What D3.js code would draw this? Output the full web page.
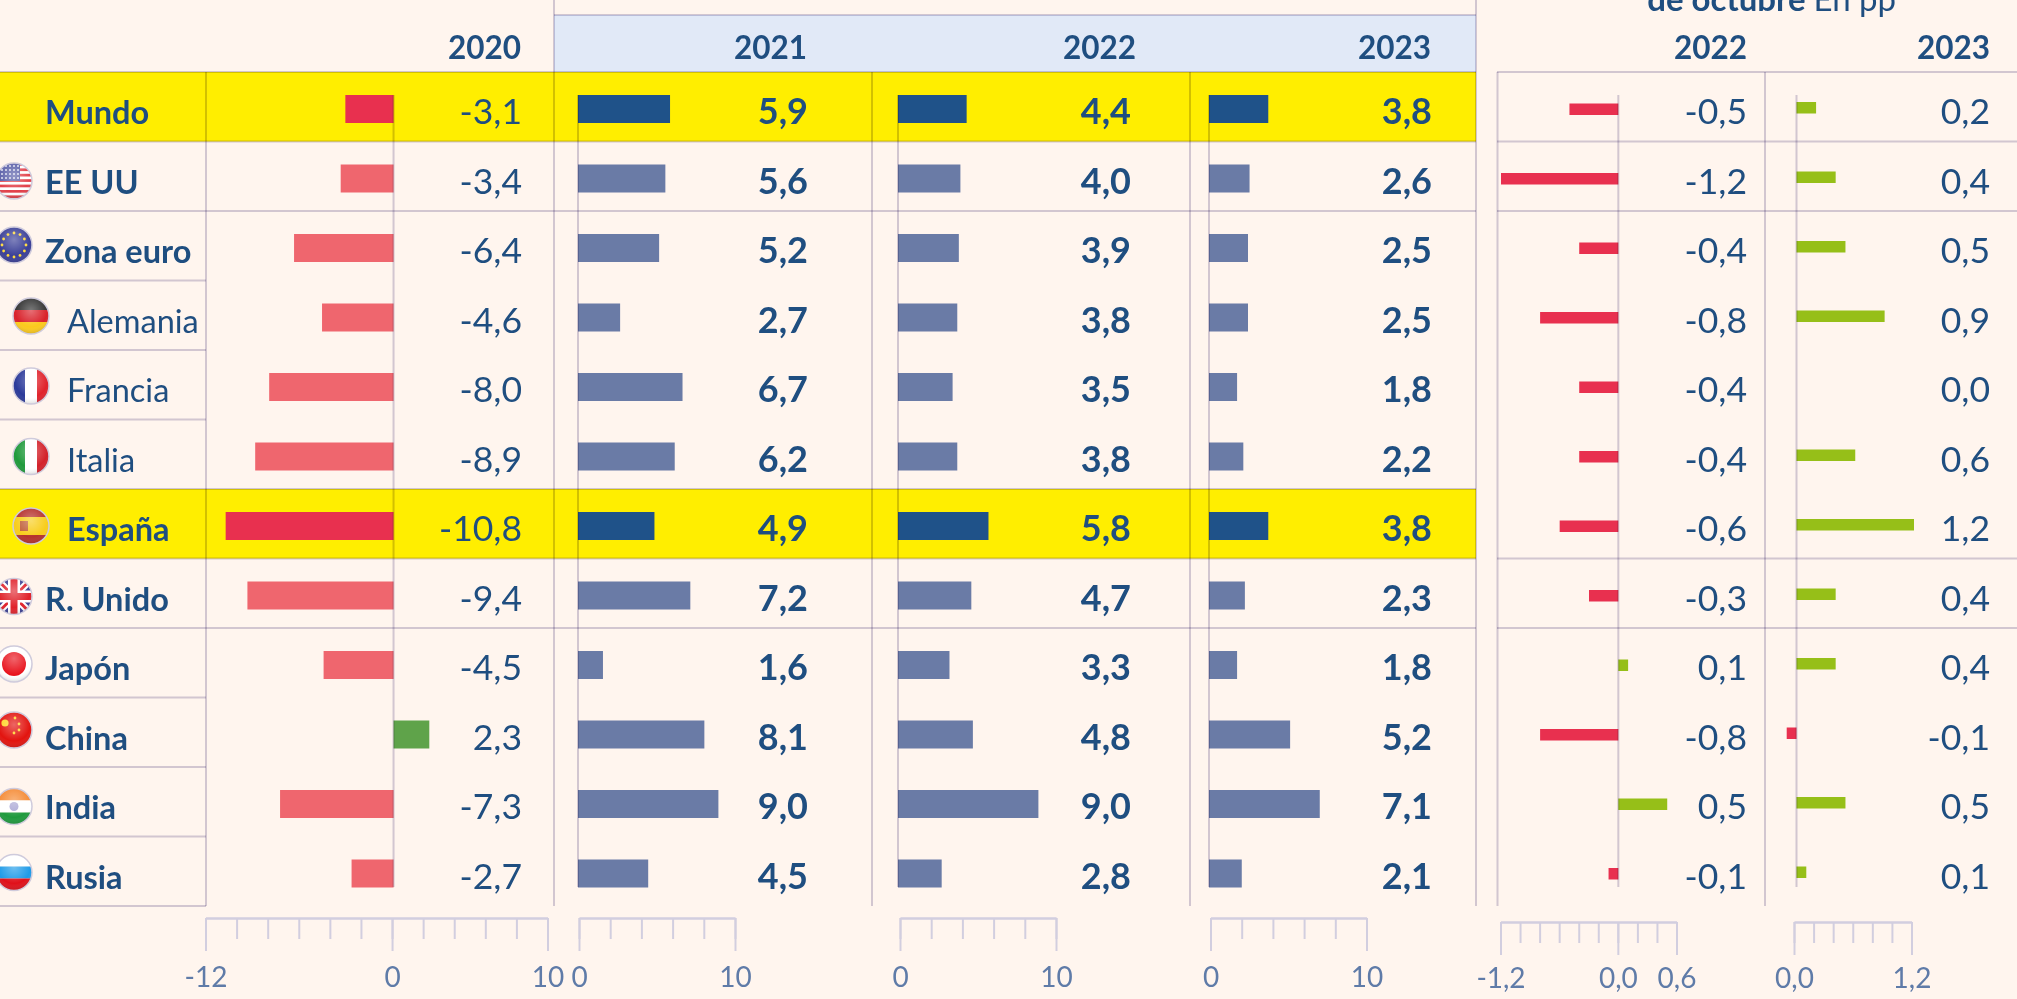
<!DOCTYPE html>
<html>
<head>
<meta charset="utf-8">
<script src="https://cdn.jsdelivr.net/npm/d3@7"></script>
<style>
	html, body { margin: 0; padding: 0; background: #fff5ee; overflow: hidden; }
	svg { display: block; }
	text { font-family: Lato, sans-serif; }
</style>
</head>
<body>
<div id="chart"></div>
<script>
var paises = ["Mundo", "EE UU", "Zona euro", "Alemania", "Francia", "Italia", "España", "R. Unido", "Japón", "China", "India", "Rusia"];
var claves = ["", "us", "eu", "de", "fr", "it", "es", "uk", "jp", "cn", "in", "ru"];
var pib2020 = [-3.1, -3.4, -6.4, -4.6, -8.0, -8.9, -10.8, -9.4, -4.5, 2.3, -7.3, -2.7];
var pib2021 = [5.9, 5.6, 5.2, 2.7, 6.7, 6.2, 4.9, 7.2, 1.6, 8.1, 9.0, 4.5];
var pib2022 = [4.4, 4.0, 3.9, 3.8, 3.5, 3.8, 5.8, 4.7, 3.3, 4.8, 9.0, 2.8];
var pib2023 = [3.8, 2.6, 2.5, 2.5, 1.8, 2.2, 3.8, 2.3, 1.8, 5.2, 7.1, 2.1];
var rev2022 = [-0.5, -1.2, -0.4, -0.8, -0.4, -0.4, -0.6, -0.3, 0.1, -0.8, 0.5, -0.1];
var rev2023 = [0.2, 0.4, 0.5, 0.9, 0.0, 0.6, 1.2, 0.4, 0.4, -0.1, 0.5, 0.1];
var destacados = ["Mundo", "España"];
var sangrados = ["Alemania", "Francia", "Italia", "España"];
var ligeros = ["Alemania", "Francia", "Italia"];

var width = 2017, height = 999;
var top0 = 72, rowH = 69.5;
var lineCol = "#d2cedf", textCol = "#1f4e80", tickCol = "#5f7ba8";
var fmt = function(v) { return d3.format(".1f")(v).replace(".", ",").replace("\u2212", "-"); };

var svg = d3.select("#chart").append("svg").attr("width", width).attr("height", height);
svg.append("rect").attr("width", width).attr("height", height).attr("fill", "#fff5ee");

var y = d3.scaleBand().domain(paises).range([top0, top0 + rowH * paises.length]);
var rowTop = function(i) { return top0 + i * rowH; };

// header band and yellow rows
svg.append("rect").attr("x", 554).attr("y", 15).attr("width", 922).attr("height", 57).attr("fill", "#e1e9f7");
svg.selectAll(".hl").data(destacados).enter().append("rect")
	.attr("x", 0).attr("y", function(d) { return y(d); })
	.attr("width", 1476).attr("height", y.bandwidth())
	.attr("fill", "#ffee00");

function hline(x1, x2, yy) {
	svg.append("line").attr("x1", x1).attr("x2", x2).attr("y1", yy).attr("y2", yy)
		.attr("stroke", lineCol).attr("stroke-width", 2)
		.style("mix-blend-mode", "multiply");
}
function vline(x, y1, y2) {
	svg.append("line").attr("x1", x).attr("x2", x).attr("y1", y1).attr("y2", y2)
		.attr("stroke", lineCol).attr("stroke-width", 2)
		.style("mix-blend-mode", "multiply");
}

// grid lines
hline(0, 1476, top0);
hline(1497, width, top0);
hline(554, 1476, 15);
[1, 2, 7, 8].forEach(function(i) {
	hline(0, 1476, rowTop(i));
	hline(1497, width, rowTop(i));
});
[3, 4, 5, 6, 9, 10, 11, 12].forEach(function(i) { hline(0, 206, rowTop(i)); });
hline(206, 1476, rowTop(6));

vline(206, top0, 906);
vline(554, 0, 906);
vline(872, top0, 906);
vline(1190, top0, 906);
vline(1476, 0, 906);
vline(1497.5, top0, 906);
vline(1765, top0, 906);

// panels: each one has its own scale, zero line and column of values
var panels = [
	{ name: "2020", values: pib2020, domain: [-12, 10], range: [207, 549], right: 522, header: 521, barH: 28, barOff: 23, axisDx: -1.5, axisY: 918, pad: 16, step: 2, major: [-12, 0, 10] },
	{ name: "2021", values: pib2021, domain: [0, 10], range: [578, 734], right: 808, header: 807, barH: 28, barOff: 23, bold: true, axisDx: 1, axisY: 918, pad: 16, step: 2, major: [0, 10] },
	{ name: "2022", values: pib2022, domain: [0, 10], range: [898, 1054], right: 1131, header: 1136, barH: 28, barOff: 23, bold: true, axisDx: 2, axisY: 918, pad: 16, step: 2, major: [0, 10] },
	{ name: "2023", values: pib2023, domain: [0, 10], range: [1209, 1365], right: 1432, header: 1431, barH: 28, barOff: 23, bold: true, axisDx: 1.5, axisY: 918, pad: 16, step: 2, major: [0, 10] },
	{ name: "2022", values: rev2022, domain: [-1.2, 0.6], range: [1501, 1677], right: 1747, header: 1747, barH: 11.5, barOff: 31.5, delta: true, axisDx: -0.5, axisY: 922, pad: 13, step: 0.2, major: [-1.2, 0, 0.6] },
	{ name: "2023", values: rev2023, domain: [0, 1.2], range: [1796.5, 1914], right: 1990, header: 1990, barH: 11.5, barOff: 30, delta: true, axisDx: -2.5, axisY: 922, pad: 13, step: 0.2, major: [0, 1.2] }
];

function barColor(p, v, i) {
	var hl = destacados.indexOf(paises[i]) >= 0;
	if (p.delta) return v < 0 ? "#e8304f" : "#96bf18";
	if (v > 0 && p.name === "2020") return "#5fa34a";
	if (p.name === "2020") return hl ? "#e8304f" : "#ef666e";
	return hl ? "#1f5289" : "#6a7ba6";
}

function styleAxis(sel) {
	sel.select(".domain").attr("stroke", lineCol).attr("stroke-width", 2);
	sel.selectAll(".tick line").attr("stroke", lineCol).attr("stroke-width", 2);
	sel.selectAll(".tick text").attr("fill", tickCol).attr("font-size", 28).style("font-family", "Lato, sans-serif");
}

panels.forEach(function(p) {
	var x = d3.scaleLinear().domain(p.domain).range(p.range);
	var g = svg.append("g");

	vline(x(0), 95, 887);

	g.selectAll("rect").data(p.values).enter().append("rect")
		.attr("x", function(d) { return x(Math.min(d, 0)); })
		.attr("y", function(d, i) { return y(paises[i]) + p.barOff; })
		.attr("width", function(d) { return Math.abs(x(d) - x(0)); })
		.attr("height", p.barH)
		.attr("fill", function(d, i) { return barColor(p, d, i); });

	g.selectAll("text").data(p.values).enter().append("text")
		.attr("x", p.right)
		.attr("y", function(d, i) { return y(paises[i]) + 52; })
		.attr("text-anchor", "end")
		.attr("font-size", p.bold ? 36 : 35.5)
		.attr("font-weight", p.bold ? 700 : 400)
		.attr("fill", textCol)
		.text(function(d) { return fmt(d); });

	svg.append("text")
		.attr("x", p.header).attr("y", 58.5)
		.attr("text-anchor", "end")
		.attr("font-size", 31.5).attr("font-weight", 700)
		.attr("fill", textCol)
		.text(p.name);

	// axis: short ticks first, long ones with labels on top
	var ax = x.copy().range([p.range[0] + p.axisDx, p.range[1] + p.axisDx]);
	var all = d3.range(p.domain[0], p.domain[1] + p.step / 2, p.step);
	svg.append("g").attr("transform", "translate(0," + p.axisY + ")")
		.call(d3.axisBottom(ax).tickValues(all).tickSizeInner(21).tickSizeOuter(0).tickFormat(""))
		.call(styleAxis);
	svg.append("g").attr("transform", "translate(0," + p.axisY + ")")
		.call(d3.axisBottom(ax).tickValues(p.major).tickSizeInner(33).tickSizeOuter(0)
			.tickPadding(p.pad)
			.tickFormat(function(d) { return p.delta ? fmt(d) : String(d); }))
		.call(styleAxis);
});

// clipped title line over the right panel
var sub = svg.append("text").attr("x", 1896).attr("y", 10.5).attr("text-anchor", "end")
	.attr("font-size", 33).attr("fill", textCol);
sub.append("tspan").attr("font-weight", 700).text("de octubre ");
sub.append("tspan").text("En pp");

// country names
svg.selectAll(".pais").data(paises).enter().append("text")
	.attr("x", function(d) { return sangrados.indexOf(d) >= 0 ? 67 : 45; })
	.attr("y", function(d) { return y(d) + 52; })
	.attr("font-size", 32.5)
	.attr("font-weight", function(d) { return ligeros.indexOf(d) >= 0 ? 400 : 700; })
	.attr("fill", textCol)
	.text(function(d) { return d; });

// flags
var defs = svg.append("defs");
var gloss = defs.append("radialGradient").attr("id", "gloss").attr("cx", "50%").attr("cy", "35%").attr("r", "70%");
gloss.append("stop").attr("offset", "0%").attr("stop-color", "#fff").attr("stop-opacity", 0.35);
gloss.append("stop").attr("offset", "65%").attr("stop-color", "#fff").attr("stop-opacity", 0);
gloss.append("stop").attr("offset", "100%").attr("stop-color", "#000").attr("stop-opacity", 0.22);
defs.append("clipPath").attr("id", "disc").append("circle").attr("r", 18);

var flagOffset = { us: 39.5, eu: 34, de: 35.5, fr: 36, it: 37, es: 37, uk: 38, jp: 36, cn: 32.5, in: 39.5, ru: 36 };

function band(g, x, yy, w, h, c) {
	g.append("rect").attr("x", x).attr("y", yy).attr("width", w).attr("height", h).attr("fill", c);
}
var flagDraw = {
	us: function(g) {
		band(g, -18, -18, 36, 36, "#fff");
		d3.range(0, 7).forEach(function(k) { band(g, -18, -18 + k * 5.4, 36, 2.7, "#e2404a"); });
		band(g, -18, -18, 24, 18, "#5a5fa8");
		d3.range(0, 4).forEach(function(r) {
			d3.range(0, 6).forEach(function(c) {
				g.append("circle").attr("cx", -16 + c * 4).attr("cy", -15 + r * 4).attr("r", 1).attr("fill", "#dfe0f0");
			});
		});
	},
	eu: function(g) {
		band(g, -18, -18, 36, 36, "#3a3f97");
		d3.range(0, 12).forEach(function(k) {
			var a = k * Math.PI / 6;
			g.append("circle").attr("cx", 12 * Math.cos(a)).attr("cy", 12 * Math.sin(a)).attr("r", 1.4).attr("fill", "#ffd93a");
		});
	},
	de: function(g) {
		band(g, -18, -18, 36, 12, "#333");
		band(g, -18, -6, 36, 12, "#d9212a");
		band(g, -18, 6, 36, 12, "#fbc91d");
	},
	fr: function(g) {
		band(g, -18, -18, 12, 36, "#2b3a9a");
		band(g, -6, -18, 12, 36, "#fff");
		band(g, 6, -18, 12, 36, "#e0232c");
	},
	it: function(g) {
		band(g, -18, -18, 12, 36, "#1f9a3c");
		band(g, -6, -18, 12, 36, "#fff");
		band(g, 6, -18, 12, 36, "#d3212a");
	},
	es: function(g) {
		band(g, -18, -18, 36, 9, "#b5312c");
		band(g, -18, -9, 36, 18, "#f8cd1b");
		band(g, -18, 9, 36, 9, "#b5312c");
		band(g, -11, -5, 8, 10, "#c0603a");
	},
	uk: function(g) {
		band(g, -18, -18, 36, 36, "#3b3f94");
		[[-18, -18, 18, 18], [-18, 18, 18, -18]].forEach(function(c) {
			g.append("line").attr("x1", c[0]).attr("y1", c[1]).attr("x2", c[2]).attr("y2", c[3]).attr("stroke", "#fff").attr("stroke-width", 7);
			g.append("line").attr("x1", c[0]).attr("y1", c[1]).attr("x2", c[2]).attr("y2", c[3]).attr("stroke", "#e0232c").attr("stroke-width", 3);
		});
		band(g, -18, -6, 36, 12, "#fff");
		band(g, -6, -18, 12, 36, "#fff");
		band(g, -18, -3.5, 36, 7, "#e0232c");
		band(g, -3.5, -18, 7, 36, "#e0232c");
	},
	jp: function(g) {
		band(g, -18, -18, 36, 36, "#fff");
		g.append("circle").attr("r", 12).attr("fill", "#e8121c");
	},
	cn: function(g) {
		band(g, -18, -18, 36, 36, "#e2140f");
		g.append("circle").attr("cx", -9).attr("cy", -7).attr("r", 3.6).attr("fill", "#ffd52a");
		[[1, -12], [5, -6], [5, 0], [0, 3]].forEach(function(c) {
			g.append("circle").attr("cx", c[0]).attr("cy", c[1]).attr("r", 1.4).attr("fill", "#ffd52a");
		});
	},
	in: function(g) {
		band(g, -18, -18, 36, 12, "#f58b35");
		band(g, -18, -6, 36, 12, "#fff");
		band(g, -18, 6, 36, 12, "#1e9a3d");
		g.append("circle").attr("r", 4.5).attr("fill", "#a9a6d4");
	},
	ru: function(g) {
		band(g, -18, -18, 36, 12, "#fff");
		band(g, -18, -6, 36, 12, "#1f9be8");
		band(g, -18, 6, 36, 12, "#e0101a");
	}
};

paises.forEach(function(d, i) {
	var k = claves[i];
	if (!k) return;
	var cx = sangrados.indexOf(d) >= 0 ? 31 : 14;
	var g = svg.append("g").attr("transform", "translate(" + cx + "," + (y(d) + flagOffset[k]) + ")");
	var inner = g.append("g").attr("clip-path", "url(#disc)");
	flagDraw[k](inner);
	inner.append("circle").attr("r", 18).attr("fill", "url(#gloss)");
	g.append("circle").attr("r", 18).attr("fill", "none").attr("stroke", "#cfcbdc").attr("stroke-width", 1.5);
});
</script>
</body>
</html>
